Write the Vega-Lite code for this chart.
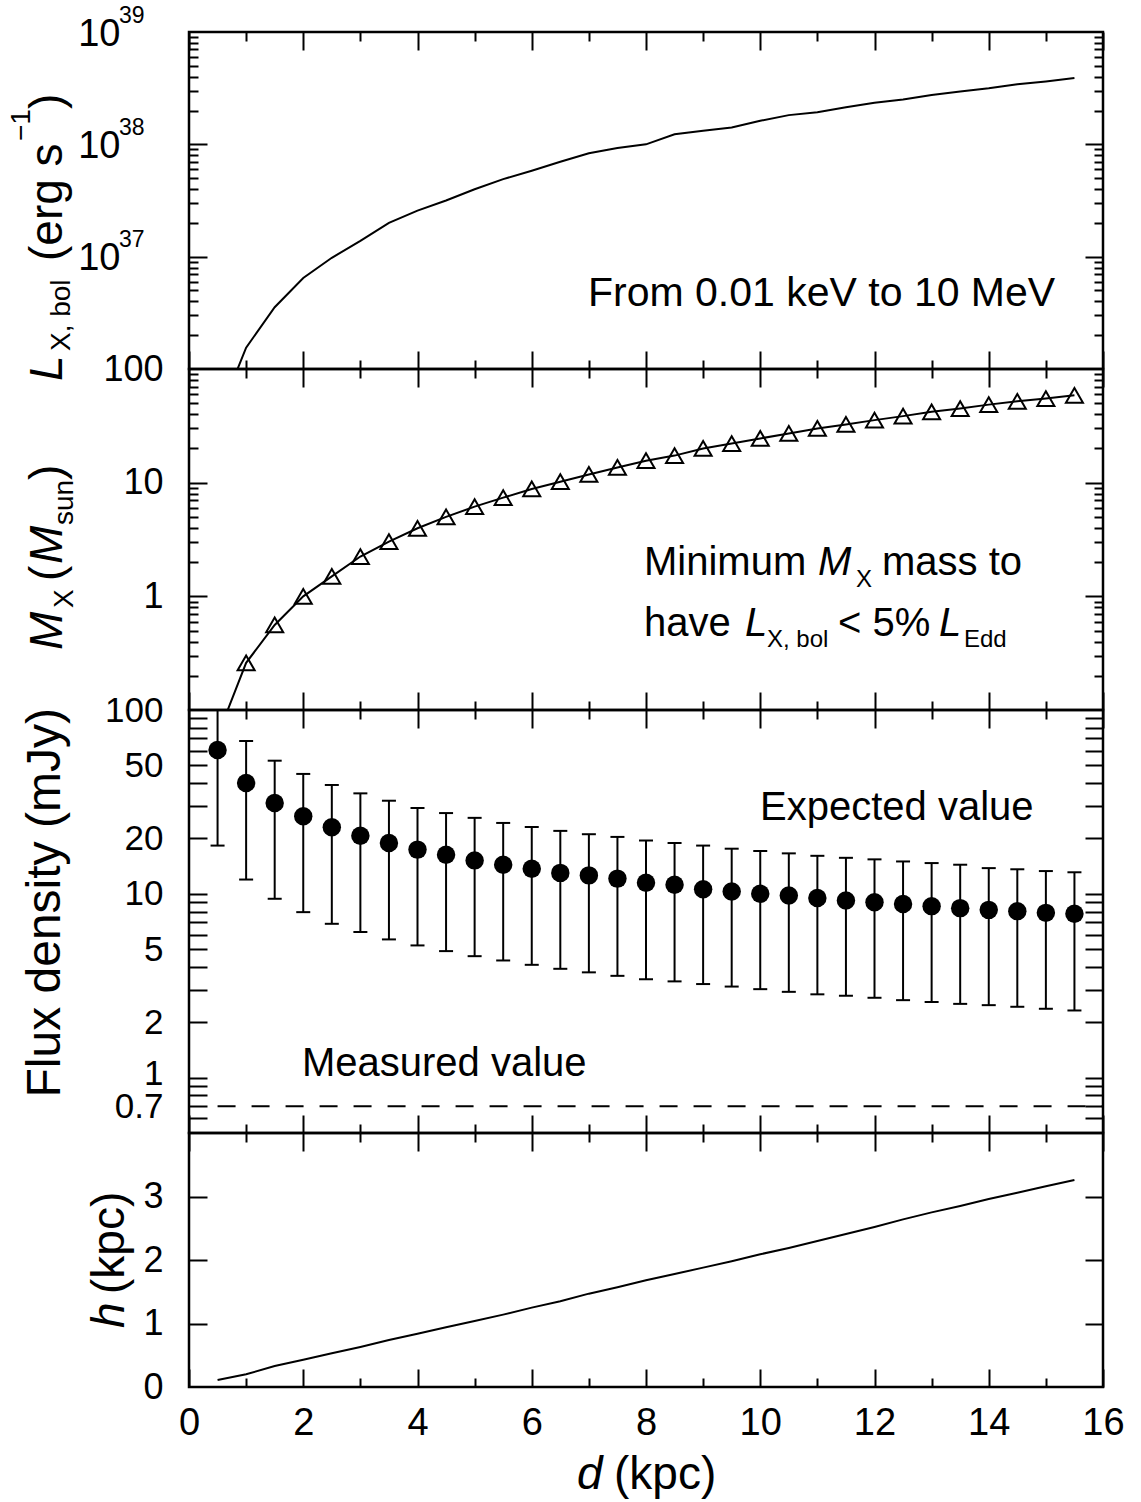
{
"$schema": "https://vega.github.io/schema/vega-lite/v6.json",
"padding": {"left": 6, "top": 2, "right": 0, "bottom": 0},
"spacing": 0,
"bounds": "flush",
"config": {
  "view": {"stroke": "#000", "strokeWidth": 2.5},
  "font": "Liberation Sans",
  "axis": {"domain": false, "grid": false, "ticks": false, "labels": false, "tickColor": "#000", "tickWidth": 2, "labelColor": "#000", "labelFont": "Liberation Sans", "labelFlush": false, "labelOverlap": false, "labelBound": false}
},
"datasets": {
  "one": [{}],
  "lum": [{"d":0.5,"L":3.6e35},{"d":1,"L":1.55e36},{"d":1.5,"L":3.55e36},{"d":2,"L":6.46e36},{"d":2.5,"L":9.77e36},{"d":3,"L":1.38e37},{"d":3.5,"L":2.0e37},{"d":4,"L":2.57e37},{"d":4.5,"L":3.16e37},{"d":5,"L":3.98e37},{"d":5.5,"L":4.9e37},{"d":6,"L":5.82e37},{"d":6.5,"L":7.0e37},{"d":7,"L":8.32e37},{"d":7.5,"L":9.27e37},{"d":8,"L":1.0e38},{"d":8.5,"L":1.23e38},{"d":9,"L":1.32e38},{"d":9.5,"L":1.41e38},{"d":10,"L":1.62e38},{"d":10.5,"L":1.82e38},{"d":11,"L":1.93e38},{"d":11.5,"L":2.14e38},{"d":12,"L":2.34e38},{"d":12.5,"L":2.51e38},{"d":13,"L":2.75e38},{"d":13.5,"L":2.95e38},{"d":14,"L":3.16e38},{"d":14.5,"L":3.43e38},{"d":15,"L":3.63e38},{"d":15.5,"L":3.89e38}],
  "mass": [{"d":0.5,"M":0.059},{"d":1,"M":0.26},{"d":1.5,"M":0.56},{"d":2,"M":1.0},{"d":2.5,"M":1.5},{"d":3,"M":2.24},{"d":3.5,"M":3.03},{"d":4,"M":3.97},{"d":4.5,"M":5.0},{"d":5,"M":6.15},{"d":5.5,"M":7.38},{"d":6,"M":8.8},{"d":6.5,"M":10.2},{"d":7,"M":11.8},{"d":7.5,"M":13.6},{"d":8,"M":15.6},{"d":8.5,"M":17.3},{"d":9,"M":20.0},{"d":9.5,"M":22.1},{"d":10,"M":24.5},{"d":10.5,"M":27.1},{"d":11,"M":30.0},{"d":11.5,"M":32.5},{"d":12,"M":35.5},{"d":12.5,"M":38.5},{"d":13,"M":42.0},{"d":13.5,"M":44.9},{"d":14,"M":48.6},{"d":14.5,"M":52.0},{"d":15,"M":55.0},{"d":15.5,"M":58.7}],
  "flux": [{"d":0.5,"F":60.6,"lo":18.3,"hi":110},{"d":1,"F":40.1,"lo":11.96,"hi":67.8},{"d":1.5,"F":31.2,"lo":9.4,"hi":53},{"d":2,"F":26.4,"lo":7.95,"hi":44.9},{"d":2.5,"F":23.0,"lo":6.87,"hi":39.1},{"d":3,"F":20.7,"lo":6.2,"hi":35.2},{"d":3.5,"F":18.9,"lo":5.65,"hi":32.1},{"d":4,"F":17.4,"lo":5.24,"hi":29.3},{"d":4.5,"F":16.3,"lo":4.88,"hi":27.5},{"d":5,"F":15.2,"lo":4.58,"hi":25.9},{"d":5.5,"F":14.4,"lo":4.34,"hi":24.3},{"d":6,"F":13.7,"lo":4.11,"hi":23.1},{"d":6.5,"F":13.0,"lo":3.91,"hi":22.0},{"d":7,"F":12.6,"lo":3.74,"hi":21.1},{"d":7.5,"F":12.1,"lo":3.58,"hi":20.4},{"d":8,"F":11.5,"lo":3.43,"hi":19.5},{"d":8.5,"F":11.2,"lo":3.34,"hi":18.9},{"d":9,"F":10.6,"lo":3.23,"hi":18.3},{"d":9.5,"F":10.3,"lo":3.13,"hi":17.6},{"d":10,"F":10.0,"lo":3.03,"hi":17.1},{"d":10.5,"F":9.8,"lo":2.93,"hi":16.6},{"d":11,"F":9.48,"lo":2.84,"hi":16.1},{"d":11.5,"F":9.2,"lo":2.79,"hi":15.7},{"d":12,"F":9.0,"lo":2.72,"hi":15.4},{"d":12.5,"F":8.8,"lo":2.64,"hi":15.0},{"d":13,"F":8.57,"lo":2.58,"hi":14.7},{"d":13.5,"F":8.36,"lo":2.52,"hi":14.4},{"d":14,"F":8.18,"lo":2.48,"hi":13.8},{"d":14.5,"F":8.05,"lo":2.43,"hi":13.6},{"d":15,"F":7.88,"lo":2.37,"hi":13.3},{"d":15.5,"F":7.79,"lo":2.32,"hi":13.1}],
  "height": [{"d":0.5,"h":0.11},{"d":1,"h":0.2},{"d":1.5,"h":0.33},{"d":2,"h":0.43},{"d":2.5,"h":0.53},{"d":3,"h":0.63},{"d":3.5,"h":0.74},{"d":4,"h":0.84},{"d":4.5,"h":0.94},{"d":5,"h":1.04},{"d":5.5,"h":1.14},{"d":6,"h":1.25},{"d":6.5,"h":1.35},{"d":7,"h":1.47},{"d":7.5,"h":1.57},{"d":8,"h":1.68},{"d":8.5,"h":1.78},{"d":9,"h":1.88},{"d":9.5,"h":1.98},{"d":10,"h":2.09},{"d":10.5,"h":2.19},{"d":11,"h":2.3},{"d":11.5,"h":2.41},{"d":12,"h":2.52},{"d":12.5,"h":2.64},{"d":13,"h":2.75},{"d":13.5,"h":2.85},{"d":14,"h":2.96},{"d":14.5,"h":3.06},{"d":15,"h":3.16},{"d":15.5,"h":3.26}]
},
"vconcat": [
{
 "width": 914, "height": 337,
 "resolve": {"axis": {"x": "independent", "y": "independent"}},
 "layer": [
  {"data": {"name": "lum"}, "mark": {"type": "line", "color": "#000", "strokeWidth": 2, "clip": true},
   "encoding": {
    "x": {"field": "d", "type": "quantitative", "scale": {"domain": [0, 16], "nice": false, "zero": false}, "axis": {"orient": "bottom", "values": [0,2,4,6,8,10,12,14,16], "ticks": true, "tickSize": -18, "title": null}},
    "y": {"field": "L", "type": "quantitative", "scale": {"type": "log", "domain": [1e36, 1e39], "nice": false}, "axis": {"orient": "left", "values": [1e37, 1e38, 1e39], "labels": true, "labelExpr": "'10'", "labelFontSize": 38, "labelPadding": 69, "labelOffset": 2, "title": null}}}},
  {"data": {"name": "one"}, "mark": {"type": "text", "text": "From 0.01 keV to 10 MeV", "fontSize": 41, "align": "left", "baseline": "alphabetic", "color": "#000"},
   "encoding": {
    "x": {"datum": 6.985, "type": "quantitative", "scale": {"domain": [0, 16], "nice": false, "zero": false}, "axis": {"orient": "bottom", "values": [1,3,5,7,9,11,13,15], "ticks": true, "tickSize": -9, "title": null}},
    "y": {"datum": 3.638e36, "type": "quantitative", "scale": {"type": "log", "domain": [1e36, 1e39], "nice": false}, "axis": {"orient": "left", "values": [1e37, 1e38], "ticks": true, "tickSize": -18, "title": null}}}},
  {"data": {"name": "one"}, "mark": {"type": "text", "text": "L", "fontSize": 46, "fontStyle": "italic", "angle": 270, "align": "left", "baseline": "alphabetic", "color": "#000"},
   "encoding": {
    "x": {"datum": -2.223, "type": "quantitative", "scale": {"domain": [0, 16], "nice": false, "zero": false}, "axis": {"orient": "top", "values": [0,2,4,6,8,10,12,14,16], "ticks": true, "tickSize": -18, "title": null}},
    "y": {"datum": 7.82e35, "type": "quantitative", "scale": {"type": "log", "domain": [1e36, 1e39], "nice": false}, "axis": {"orient": "left", "values": [2e36,3e36,4e36,5e36,6e36,7e36,8e36,9e36,2e37,3e37,4e37,5e37,6e37,7e37,8e37,9e37,2e38,3e38,4e38,5e38,6e38,7e38,8e38,9e38], "ticks": true, "tickSize": -9, "title": null}}}},
  {"data": {"name": "one"}, "mark": {"type": "text", "text": "X, bol", "fontSize": 28, "angle": 270, "align": "left", "baseline": "alphabetic", "color": "#000"},
   "encoding": {
    "x": {"datum": -2.083, "type": "quantitative", "scale": {"domain": [0, 16], "nice": false, "zero": false}, "axis": {"orient": "top", "values": [1,3,5,7,9,11,13,15], "ticks": true, "tickSize": -9, "title": null}},
    "y": {"datum": 1.446e36, "type": "quantitative", "scale": {"type": "log", "domain": [1e36, 1e39], "nice": false}, "axis": {"orient": "right", "values": [1e37, 1e38], "ticks": true, "tickSize": -18, "title": null}}}},
  {"data": {"name": "one"}, "mark": {"type": "text", "text": "(erg s", "fontSize": 46, "angle": 270, "align": "left", "baseline": "alphabetic", "color": "#000"},
   "encoding": {
    "x": {"datum": -2.223, "type": "quantitative", "scale": {"domain": [0, 16], "nice": false, "zero": false}, "axis": null},
    "y": {"datum": 9.15e36, "type": "quantitative", "scale": {"type": "log", "domain": [1e36, 1e39], "nice": false}, "axis": {"orient": "right", "values": [2e36,3e36,4e36,5e36,6e36,7e36,8e36,9e36,2e37,3e37,4e37,5e37,6e37,7e37,8e37,9e37,2e38,3e38,4e38,5e38,6e38,7e38,8e38,9e38], "ticks": true, "tickSize": -9, "title": null}}}},
  {"data": {"name": "one"}, "mark": {"type": "text", "text": "−1", "fontSize": 28, "angle": 270, "align": "left", "baseline": "alphabetic", "color": "#000"},
   "encoding": {
    "x": {"datum": -2.783, "type": "quantitative", "scale": {"domain": [0, 16], "nice": false, "zero": false}, "axis": null},
    "y": {"datum": 1.07e38, "type": "quantitative", "scale": {"type": "log", "domain": [1e36, 1e39], "nice": false}, "axis": {"orient": "left", "values": [1e37, 1e38, 1e39], "labels": true, "labelExpr": "datum.value > 5e38 ? '39' : datum.value > 5e37 ? '38' : '37'", "labelFontSize": 23, "labelPadding": 45, "labelOffset": -17, "title": null}}}},
  {"data": {"name": "one"}, "mark": {"type": "text", "text": ")", "fontSize": 46, "angle": 270, "align": "left", "baseline": "alphabetic", "color": "#000"},
   "encoding": {
    "x": {"datum": -2.223, "type": "quantitative", "scale": {"domain": [0, 16], "nice": false, "zero": false}, "axis": null},
    "y": {"datum": 2.064e38, "type": "quantitative", "scale": {"type": "log", "domain": [1e36, 1e39], "nice": false}, "axis": null}}}
 ]
},
{
 "width": 914, "height": 341,
 "resolve": {"axis": {"x": "independent", "y": "independent"}},
 "layer": [
  {"data": {"name": "mass"}, "mark": {"type": "line", "color": "#000", "strokeWidth": 2, "clip": true},
   "encoding": {
    "x": {"field": "d", "type": "quantitative", "scale": {"domain": [0, 16], "nice": false, "zero": false}, "axis": {"orient": "bottom", "values": [0,2,4,6,8,10,12,14,16], "ticks": true, "tickSize": -18, "title": null}},
    "y": {"field": "M", "type": "quantitative", "scale": {"type": "log", "domain": [0.1, 100], "nice": false}, "axis": {"orient": "left", "values": [1, 10, 100], "format": "~g", "labels": true, "labelFontSize": 36, "labelPadding": 26, "title": null}}}},
  {"data": {"name": "mass"}, "mark": {"type": "point", "shape": "triangle-up", "size": 290, "filled": false, "color": "#000", "strokeWidth": 2, "opacity": 1, "clip": true},
   "encoding": {
    "x": {"field": "d", "type": "quantitative", "scale": {"domain": [0, 16], "nice": false, "zero": false}, "axis": {"orient": "bottom", "values": [1,3,5,7,9,11,13,15], "ticks": true, "tickSize": -9, "title": null}},
    "y": {"field": "M", "type": "quantitative", "scale": {"type": "log", "domain": [0.1, 100], "nice": false}, "axis": {"orient": "left", "values": [1, 10], "ticks": true, "tickSize": -18, "title": null}}}},
  {"data": {"name": "one"}, "mark": {"type": "text", "text": "Minimum", "fontSize": 40, "align": "left", "baseline": "alphabetic", "color": "#000"},
   "encoding": {
    "x": {"datum": 7.965, "type": "quantitative", "scale": {"domain": [0, 16], "nice": false, "zero": false}, "axis": {"orient": "top", "values": [0,2,4,6,8,10,12,14,16], "ticks": true, "tickSize": -18, "title": null}},
    "y": {"datum": 1.541, "type": "quantitative", "scale": {"type": "log", "domain": [0.1, 100], "nice": false}, "axis": {"orient": "left", "values": [0.2,0.3,0.4,0.5,0.6,0.7,0.8,0.9,2,3,4,5,6,7,8,9,20,30,40,50,60,70,80,90], "ticks": true, "tickSize": -9, "title": null}}}},
  {"data": {"name": "one"}, "mark": {"type": "text", "text": "M", "fontSize": 40, "fontStyle": "italic", "align": "left", "baseline": "alphabetic", "color": "#000"},
   "encoding": {
    "x": {"datum": 11.011, "type": "quantitative", "scale": {"domain": [0, 16], "nice": false, "zero": false}, "axis": {"orient": "top", "values": [1,3,5,7,9,11,13,15], "ticks": true, "tickSize": -9, "title": null}},
    "y": {"datum": 1.541, "type": "quantitative", "scale": {"type": "log", "domain": [0.1, 100], "nice": false}, "axis": {"orient": "right", "values": [1, 10], "ticks": true, "tickSize": -18, "title": null}}}},
  {"data": {"name": "one"}, "mark": {"type": "text", "text": "X", "fontSize": 24, "align": "left", "baseline": "alphabetic", "color": "#000"},
   "encoding": {
    "x": {"datum": 11.676, "type": "quantitative", "scale": {"domain": [0, 16], "nice": false, "zero": false}, "axis": null},
    "y": {"datum": 1.208, "type": "quantitative", "scale": {"type": "log", "domain": [0.1, 100], "nice": false}, "axis": {"orient": "right", "values": [0.2,0.3,0.4,0.5,0.6,0.7,0.8,0.9,2,3,4,5,6,7,8,9,20,30,40,50,60,70,80,90], "ticks": true, "tickSize": -9, "title": null}}}},
  {"data": {"name": "one"}, "mark": {"type": "text", "text": "mass to", "fontSize": 40, "align": "left", "baseline": "alphabetic", "color": "#000"},
   "encoding": {
    "x": {"datum": 12.131, "type": "quantitative", "scale": {"domain": [0, 16], "nice": false, "zero": false}, "axis": null},
    "y": {"datum": 1.541, "type": "quantitative", "scale": {"type": "log", "domain": [0.1, 100], "nice": false}, "axis": null}}},
  {"data": {"name": "one"}, "mark": {"type": "text", "text": "have", "fontSize": 40, "align": "left", "baseline": "alphabetic", "color": "#000"},
   "encoding": {
    "x": {"datum": 7.965, "type": "quantitative", "scale": {"domain": [0, 16], "nice": false, "zero": false}, "axis": null},
    "y": {"datum": 0.4478, "type": "quantitative", "scale": {"type": "log", "domain": [0.1, 100], "nice": false}, "axis": null}}},
  {"data": {"name": "one"}, "mark": {"type": "text", "text": "L", "fontSize": 40, "fontStyle": "italic", "align": "left", "baseline": "alphabetic", "color": "#000"},
   "encoding": {
    "x": {"datum": 9.733, "type": "quantitative", "scale": {"domain": [0, 16], "nice": false, "zero": false}, "axis": null},
    "y": {"datum": 0.4478, "type": "quantitative", "scale": {"type": "log", "domain": [0.1, 100], "nice": false}, "axis": null}}},
  {"data": {"name": "one"}, "mark": {"type": "text", "text": "X, bol", "fontSize": 24, "align": "left", "baseline": "alphabetic", "color": "#000"},
   "encoding": {
    "x": {"datum": 10.118, "type": "quantitative", "scale": {"domain": [0, 16], "nice": false, "zero": false}, "axis": null},
    "y": {"datum": 0.3583, "type": "quantitative", "scale": {"type": "log", "domain": [0.1, 100], "nice": false}, "axis": null}}},
  {"data": {"name": "one"}, "mark": {"type": "text", "text": "< 5%", "fontSize": 40, "align": "left", "baseline": "alphabetic", "color": "#000"},
   "encoding": {
    "x": {"datum": 11.361, "type": "quantitative", "scale": {"domain": [0, 16], "nice": false, "zero": false}, "axis": null},
    "y": {"datum": 0.4478, "type": "quantitative", "scale": {"type": "log", "domain": [0.1, 100], "nice": false}, "axis": null}}},
  {"data": {"name": "one"}, "mark": {"type": "text", "text": "L", "fontSize": 40, "fontStyle": "italic", "align": "left", "baseline": "alphabetic", "color": "#000"},
   "encoding": {
    "x": {"datum": 13.129, "type": "quantitative", "scale": {"domain": [0, 16], "nice": false, "zero": false}, "axis": null},
    "y": {"datum": 0.4478, "type": "quantitative", "scale": {"type": "log", "domain": [0.1, 100], "nice": false}, "axis": null}}},
  {"data": {"name": "one"}, "mark": {"type": "text", "text": "Edd", "fontSize": 24, "align": "left", "baseline": "alphabetic", "color": "#000"},
   "encoding": {
    "x": {"datum": 13.567, "type": "quantitative", "scale": {"domain": [0, 16], "nice": false, "zero": false}, "axis": null},
    "y": {"datum": 0.3583, "type": "quantitative", "scale": {"type": "log", "domain": [0.1, 100], "nice": false}, "axis": null}}},
  {"data": {"name": "one"}, "mark": {"type": "text", "text": "M", "fontSize": 46, "fontStyle": "italic", "angle": 270, "align": "left", "baseline": "alphabetic", "color": "#000"},
   "encoding": {
    "x": {"datum": -2.223, "type": "quantitative", "scale": {"domain": [0, 16], "nice": false, "zero": false}, "axis": null},
    "y": {"datum": 0.3373, "type": "quantitative", "scale": {"type": "log", "domain": [0.1, 100], "nice": false}, "axis": null}}},
  {"data": {"name": "one"}, "mark": {"type": "text", "text": "X", "fontSize": 28, "angle": 270, "align": "left", "baseline": "alphabetic", "color": "#000"},
   "encoding": {
    "x": {"datum": -2.031, "type": "quantitative", "scale": {"domain": [0, 16], "nice": false, "zero": false}, "axis": null},
    "y": {"datum": 0.7897, "type": "quantitative", "scale": {"type": "log", "domain": [0.1, 100], "nice": false}, "axis": null}}},
  {"data": {"name": "one"}, "mark": {"type": "text", "text": "(", "fontSize": 46, "angle": 270, "align": "left", "baseline": "alphabetic", "color": "#000"},
   "encoding": {
    "x": {"datum": -2.223, "type": "quantitative", "scale": {"domain": [0, 16], "nice": false, "zero": false}, "axis": null},
    "y": {"datum": 1.364, "type": "quantitative", "scale": {"type": "log", "domain": [0.1, 100], "nice": false}, "axis": null}}},
  {"data": {"name": "one"}, "mark": {"type": "text", "text": "M", "fontSize": 46, "fontStyle": "italic", "angle": 270, "align": "left", "baseline": "alphabetic", "color": "#000"},
   "encoding": {
    "x": {"datum": -2.223, "type": "quantitative", "scale": {"domain": [0, 16], "nice": false, "zero": false}, "axis": null},
    "y": {"datum": 1.925, "type": "quantitative", "scale": {"type": "log", "domain": [0.1, 100], "nice": false}, "axis": null}}},
  {"data": {"name": "one"}, "mark": {"type": "text", "text": "sun", "fontSize": 28, "angle": 270, "align": "left", "baseline": "alphabetic", "color": "#000"},
   "encoding": {
    "x": {"datum": -2.031, "type": "quantitative", "scale": {"domain": [0, 16], "nice": false, "zero": false}, "axis": null},
    "y": {"datum": 4.242, "type": "quantitative", "scale": {"type": "log", "domain": [0.1, 100], "nice": false}, "axis": null}}},
  {"data": {"name": "one"}, "mark": {"type": "text", "text": ")", "fontSize": 46, "angle": 270, "align": "left", "baseline": "alphabetic", "color": "#000"},
   "encoding": {
    "x": {"datum": -2.223, "type": "quantitative", "scale": {"domain": [0, 16], "nice": false, "zero": false}, "axis": null},
    "y": {"datum": 10.56, "type": "quantitative", "scale": {"type": "log", "domain": [0.1, 100], "nice": false}, "axis": null}}}
 ]
},
{
 "width": 914, "height": 423,
 "resolve": {"axis": {"x": "independent", "y": "independent"}},
 "layer": [
  {"data": {"name": "flux"}, "mark": {"type": "rule", "color": "#000", "strokeWidth": 2, "clip": true},
   "encoding": {
    "x": {"field": "d", "type": "quantitative", "scale": {"domain": [0, 16], "nice": false, "zero": false}, "axis": {"orient": "bottom", "values": [0,2,4,6,8,10,12,14,16], "ticks": true, "tickSize": -18, "title": null}},
    "y": {"field": "lo", "type": "quantitative", "scale": {"type": "log", "domain": [0.5, 100], "nice": false}, "axis": {"orient": "left", "values": [0.7, 1, 2, 5, 10, 20, 50, 100], "format": "~g", "labels": true, "labelFontSize": 35, "labelPadding": 26, "labelOffset": {"condition": {"test": "datum.value == 1", "value": -4}, "value": 0}, "title": null}},
    "y2": {"field": "hi"}}},
  {"data": {"name": "flux"}, "mark": {"type": "tick", "orient": "horizontal", "size": 14, "thickness": 2, "color": "#000", "opacity": 1, "clip": true},
   "encoding": {
    "x": {"field": "d", "type": "quantitative", "scale": {"domain": [0, 16], "nice": false, "zero": false}, "axis": {"orient": "bottom", "values": [1,3,5,7,9,11,13,15], "ticks": true, "tickSize": -9, "title": null}},
    "y": {"field": "lo", "type": "quantitative", "scale": {"type": "log", "domain": [0.5, 100], "nice": false}, "axis": {"orient": "left", "values": [1, 10], "ticks": true, "tickSize": -18, "title": null}}}},
  {"data": {"name": "flux"}, "mark": {"type": "tick", "orient": "horizontal", "size": 14, "thickness": 2, "color": "#000", "opacity": 1, "clip": true},
   "encoding": {
    "x": {"field": "d", "type": "quantitative", "scale": {"domain": [0, 16], "nice": false, "zero": false}, "axis": {"orient": "top", "values": [0,2,4,6,8,10,12,14,16], "ticks": true, "tickSize": -18, "title": null}},
    "y": {"field": "hi", "type": "quantitative", "scale": {"type": "log", "domain": [0.5, 100], "nice": false}, "axis": {"orient": "left", "values": [0.6,0.7,0.8,0.9,2,3,4,5,6,7,8,9,20,30,40,50,60,70,80,90], "ticks": true, "tickSize": -18, "title": null}}}},
  {"data": {"name": "flux"}, "mark": {"type": "circle", "size": 340, "color": "#000", "opacity": 1},
   "encoding": {
    "x": {"field": "d", "type": "quantitative", "scale": {"domain": [0, 16], "nice": false, "zero": false}, "axis": {"orient": "top", "values": [1,3,5,7,9,11,13,15], "ticks": true, "tickSize": -9, "title": null}},
    "y": {"field": "F", "type": "quantitative", "scale": {"type": "log", "domain": [0.5, 100], "nice": false}, "axis": {"orient": "right", "values": [1, 10], "ticks": true, "tickSize": -18, "title": null}}}},
  {"data": {"name": "one"}, "mark": {"type": "rule", "color": "#000", "strokeWidth": 2, "strokeDash": [18, 16]},
   "encoding": {
    "x": {"datum": 0.5, "type": "quantitative", "scale": {"domain": [0, 16], "nice": false, "zero": false}, "axis": null},
    "x2": {"datum": 16},
    "y": {"datum": 0.7, "type": "quantitative", "scale": {"type": "log", "domain": [0.5, 100], "nice": false}, "axis": {"orient": "right", "values": [0.6,0.7,0.8,0.9,2,3,4,5,6,7,8,9,20,30,40,50,60,70,80,90], "ticks": true, "tickSize": -18, "title": null}}}},
  {"data": {"name": "one"}, "mark": {"type": "text", "text": "Expected value", "fontSize": 40, "align": "left", "baseline": "alphabetic", "color": "#000"},
   "encoding": {
    "x": {"datum": 9.996, "type": "quantitative", "scale": {"domain": [0, 16], "nice": false, "zero": false}, "axis": null},
    "y": {"datum": 25.25, "type": "quantitative", "scale": {"type": "log", "domain": [0.5, 100], "nice": false}, "axis": null}}},
  {"data": {"name": "one"}, "mark": {"type": "text", "text": "Measured value", "fontSize": 40, "align": "left", "baseline": "alphabetic", "color": "#000"},
   "encoding": {
    "x": {"datum": 1.978, "type": "quantitative", "scale": {"domain": [0, 16], "nice": false, "zero": false}, "axis": null},
    "y": {"datum": 1.025, "type": "quantitative", "scale": {"type": "log", "domain": [0.5, 100], "nice": false}, "axis": null}}},
  {"data": {"name": "one"}, "mark": {"type": "text", "text": "Flux density (mJy)", "fontSize": 48, "angle": 270, "align": "center", "baseline": "alphabetic", "color": "#000"},
   "encoding": {
    "x": {"datum": -2.258, "type": "quantitative", "scale": {"domain": [0, 16], "nice": false, "zero": false}, "axis": null},
    "y": {"datum": 8.934, "type": "quantitative", "scale": {"type": "log", "domain": [0.5, 100], "nice": false}, "axis": null}}}
 ]
},
{
 "width": 914, "height": 254,
 "resolve": {"axis": {"x": "independent", "y": "independent"}},
 "layer": [
  {"data": {"name": "height"}, "mark": {"type": "line", "color": "#000", "strokeWidth": 2},
   "encoding": {
    "x": {"field": "d", "type": "quantitative", "scale": {"domain": [0, 16], "nice": false, "zero": false}, "axis": {"orient": "bottom", "values": [0,2,4,6,8,10,12,14,16], "ticks": true, "tickSize": -18, "title": null}},
    "y": {"field": "h", "type": "quantitative", "scale": {"domain": [0, 4], "nice": false, "zero": false}, "axis": {"orient": "left", "values": [0, 1, 2, 3], "labels": true, "labelFontSize": 36, "labelPadding": 26, "title": null}}}},
  {"data": {"name": "one"}, "mark": {"type": "text", "text": "h", "fontSize": 46, "fontStyle": "italic", "angle": 270, "align": "left", "baseline": "alphabetic", "color": "#000"},
   "encoding": {
    "x": {"datum": -1.138, "type": "quantitative", "scale": {"domain": [0, 16], "nice": false, "zero": false}, "axis": {"orient": "bottom", "values": [1,3,5,7,9,11,13,15], "ticks": true, "tickSize": -9, "title": null}},
    "y": {"datum": 0.929, "type": "quantitative", "scale": {"domain": [0, 4], "nice": false, "zero": false}, "axis": {"orient": "left", "values": [1, 2, 3], "ticks": true, "tickSize": -18, "title": null}}}},
  {"data": {"name": "one"}, "mark": {"type": "text", "text": "(kpc)", "fontSize": 46, "angle": 270, "align": "left", "baseline": "alphabetic", "color": "#000"},
   "encoding": {
    "x": {"datum": -1.138, "type": "quantitative", "scale": {"domain": [0, 16], "nice": false, "zero": false}, "axis": {"orient": "top", "values": [0,2,4,6,8,10,12,14,16], "ticks": true, "tickSize": -18, "title": null}},
    "y": {"datum": 1.465, "type": "quantitative", "scale": {"domain": [0, 4], "nice": false, "zero": false}, "axis": {"orient": "right", "values": [1, 2, 3], "ticks": true, "tickSize": -18, "title": null}}}},
  {"data": {"name": "one"}, "mark": {"type": "text", "text": "d", "fontSize": 46, "fontStyle": "italic", "align": "left", "baseline": "alphabetic", "color": "#000"},
   "encoding": {
    "x": {"datum": 6.792, "type": "quantitative", "scale": {"domain": [0, 16], "nice": false, "zero": false}, "axis": {"orient": "top", "values": [1,3,5,7,9,11,13,15], "ticks": true, "tickSize": -9, "title": null}},
    "y": {"datum": -1.606, "type": "quantitative", "scale": {"domain": [0, 4], "nice": false, "zero": false}, "axis": null}}},
  {"data": {"name": "one"}, "mark": {"type": "text", "text": "(kpc)", "fontSize": 46, "align": "left", "baseline": "alphabetic", "color": "#000"},
   "encoding": {
    "x": {"datum": 7.44, "type": "quantitative", "scale": {"domain": [0, 16], "nice": false, "zero": false}, "axis": {"orient": "bottom", "values": [0,2,4,6,8,10,12,14,16], "labels": true, "labelFontSize": 38, "labelPadding": 17, "title": null}},
    "y": {"datum": -1.606, "type": "quantitative", "scale": {"domain": [0, 4], "nice": false, "zero": false}, "axis": null}}}
 ]
}
]
}
